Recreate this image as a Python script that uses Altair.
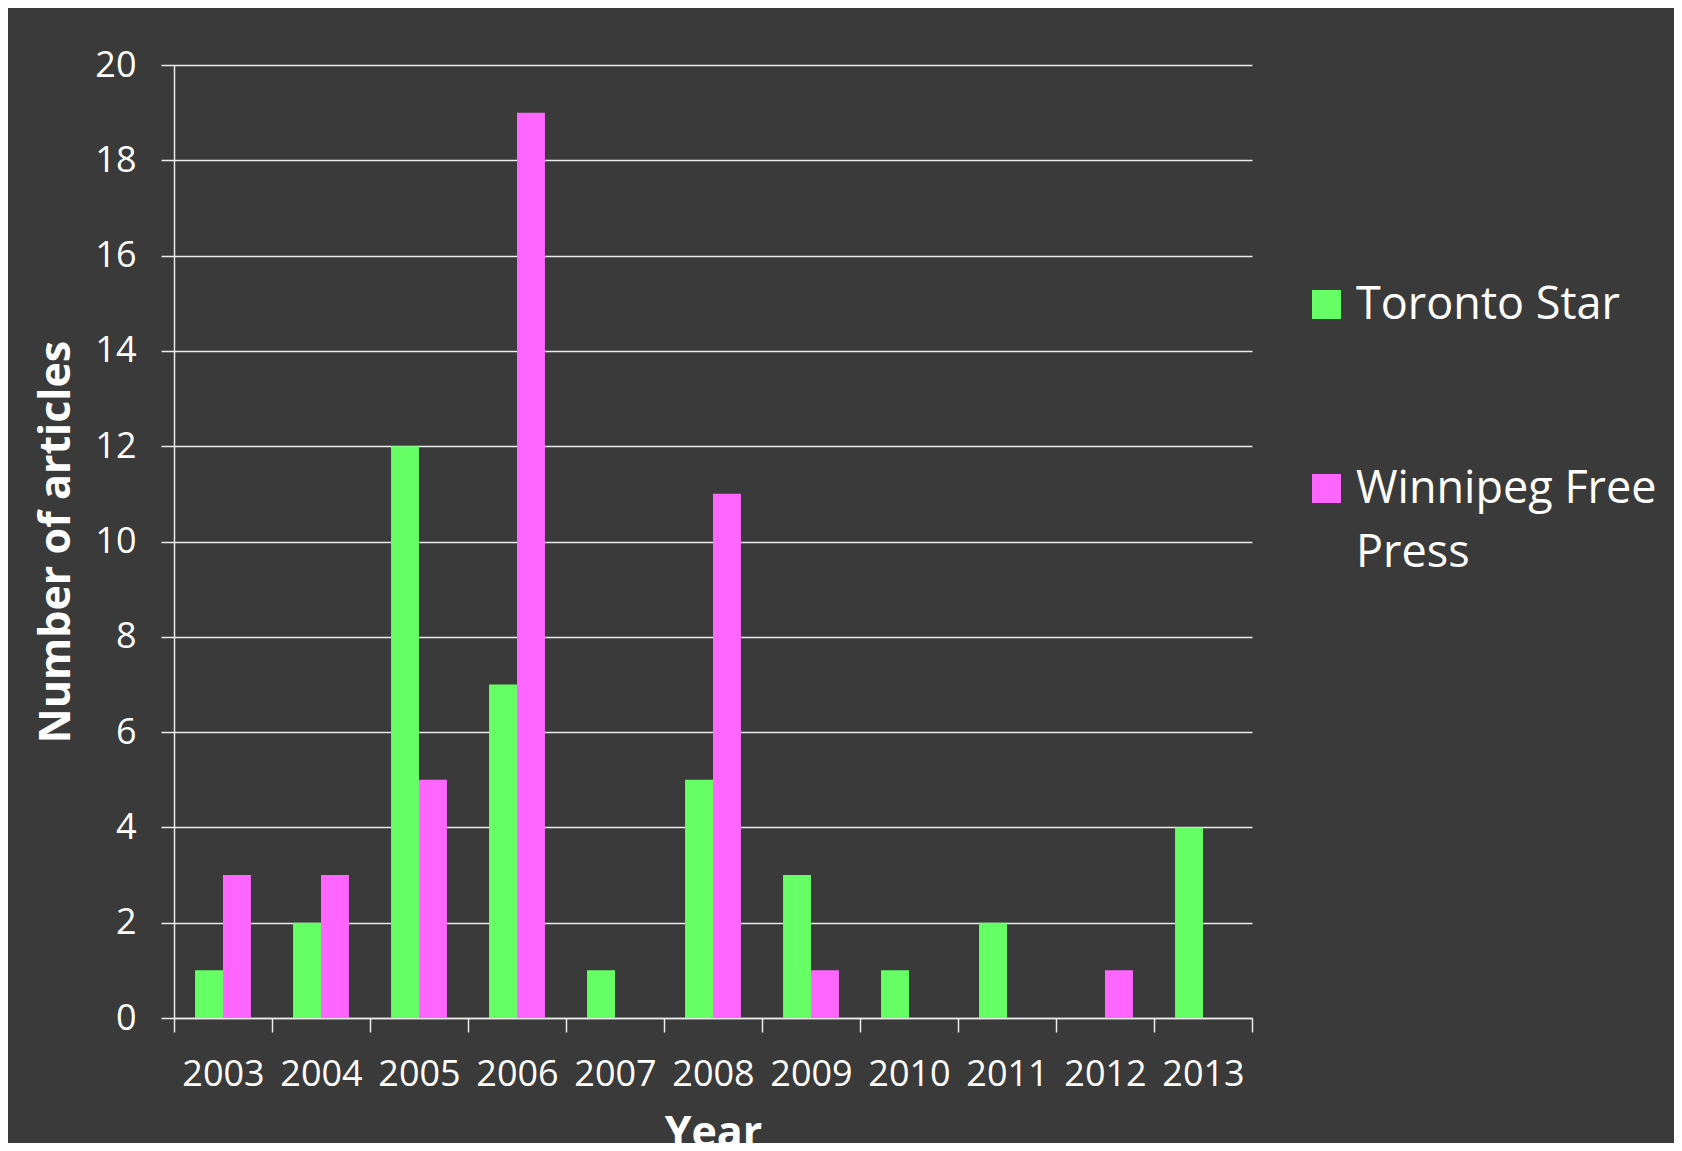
import altair as alt
import pandas as pd

years = ["2003", "2004", "2005", "2006", "2007", "2008", "2009", "2010", "2011", "2012", "2013"]
toronto_star = [1, 2, 12, 7, 1, 5, 3, 1, 2, 0, 4]
winnipeg_free_press = [3, 3, 5, 19, 0, 11, 1, 0, 0, 1, 0]
series = ["Toronto Star", "Winnipeg Free Press"]
colors = ["#66ff66", "#ff66ff"]
y_ticks = [0, 2, 4, 6, 8, 10, 12, 14, 16, 18, 20]

rows = []
for i, yr in enumerate(years):
    rows.append({"Year": yr, "Paper": series[0], "Articles": toronto_star[i]})
    rows.append({"Year": yr, "Paper": series[1], "Articles": winnipeg_free_press[i]})
df = pd.DataFrame(rows)

FONT = "Open Sans"
BG = "#3a3a3a"
LINE = "#ececec"

chart = alt.Chart(df).mark_bar().encode(
    x=alt.X(
        "Year:N",
        sort=years,
        scale=alt.Scale(paddingInner=0, paddingOuter=0),
        axis=alt.Axis(
            title="Year",
            labelAngle=0,
            tickBand="extent",
            tickSize=14,
            tickWidth=1.5,
            tickColor=LINE,
            domainColor=LINE,
            domainWidth=1.5,
            labelColor="white",
            labelFont=FONT,
            labelFontSize=36,
            labelPadding=25,
            titleColor="white",
            titleFont=FONT,
            titleFontSize=43,
            titleFontWeight="bold",
            titlePadding=20,
            grid=False,
        ),
    ),
    xOffset=alt.XOffset(
        "Paper:N", sort=series, scale=alt.Scale(paddingInner=0, paddingOuter=0.754)
    ),
    y=alt.Y(
        "Articles:Q",
        scale=alt.Scale(domain=[0, 20], nice=False),
        axis=alt.Axis(
            title="Number of articles",
            values=y_ticks,
            tickSize=13,
            tickWidth=1.5,
            tickColor=LINE,
            domainColor=LINE,
            domainWidth=1.5,
            gridColor=LINE,
            gridWidth=1.5,
            labelColor="white",
            labelFont=FONT,
            labelFontSize=36,
            labelPadding=25,
            titleColor="white",
            titleFont=FONT,
            titleFontSize=43,
            titleFontWeight="bold",
            titlePadding=16,
        ),
    ),
    color=alt.Color(
        "Paper:N",
        sort=series,
        scale=alt.Scale(domain=series, range=colors),
        legend=alt.Legend(
            title=None,
            orient="none",
            legendX=1130,
            legendY=217,
            symbolType="square",
            symbolSize=841,
            symbolStrokeWidth=0,
            symbolOpacity=1,
            labelColor="white",
            labelFont=FONT,
            labelFontSize=45,
            labelOffset=7,
            labelLimit=1000,
            rowPadding=138,
            padding=0,
            labelExpr="datum.value == 'Winnipeg Free Press' ? ['Winnipeg Free', 'Press'] : datum.value",
        ),
    ),
).properties(
    width=1078,
    height=953,
    background=BG,
    autosize=alt.AutoSizeParams(type="none"),
    padding={"left": 166, "top": 57, "right": 422, "bottom": 125},
).configure(
    view=alt.ViewConfig(stroke=None),
    style={"guide-label": {"lineHeight": 64}},
)

chart.save("out.html", embed_options={"renderer": "svg", "actions": False})
